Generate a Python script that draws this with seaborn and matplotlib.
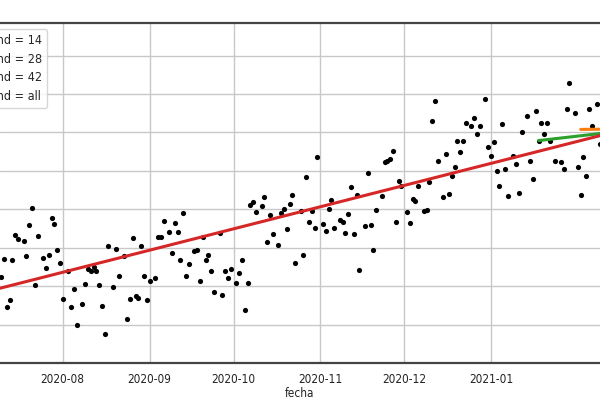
import pandas as pd
import numpy as np
import matplotlib
matplotlib.use("Agg")
import matplotlib.pyplot as plt
import matplotlib.dates as mdates
import seaborn as sns

# days since 2020-08-01 and daily values
dias = [-22, -21, -20, -19, -18, -17, -16, -14, -13, -12, -11, -10, -9, -7, -6, -5, -4, -3, -2, -1,
        0, 2, 3, 4, 5, 7, 8, 9, 10, 11, 12, 13, 14, 15, 16, 18, 19, 20, 22, 23,
        24, 25, 26, 27, 28, 29, 30, 31, 33, 34, 35, 36, 38, 39, 40, 41, 42, 43, 44, 45,
        47, 48, 49, 50, 51, 52, 53, 54, 56, 57, 58, 59, 60, 62, 63, 64, 65, 66, 67, 68,
        69, 71, 72, 73, 74, 75, 77, 78, 79, 80, 81, 82, 83, 85,
        86, 87, 88, 89, 90, 91, 93, 94, 95, 96, 97, 99, 100, 101, 102, 103, 104, 105, 106, 108,
        109, 110, 111, 112, 114, 115, 116, 117, 118, 119, 120, 121, 123, 124, 125, 126, 127, 129, 130, 131,
        132, 133, 134, 136, 137, 138, 139, 140, 141, 142, 143, 144, 146, 147, 148, 149, 151, 152, 153, 154,
        155, 156, 157, 158, 159, 161, 162, 163, 164, 166, 167, 168, 169, 170, 171, 172, 173, 174, 176, 178,
        179, 180, 181, 183, 184, 185, 186, 187, 188, 189, 191, 192]
valores = [2.23, 2.70, 1.45, 1.64, 2.68, 3.32, 3.22, 3.17, 2.78, 3.58, 4.03, 2.03, 3.30, 2.73, 2.47, 2.81, 3.77, 3.61, 2.94, 2.60,
           1.66, 2.39, 1.45, 1.92, 0.99, 1.53, 2.05, 2.44, 2.39, 2.49, 2.39, 2.03, 1.48, 0.75, 3.04, 1.97, 2.96, 2.26, 2.78, 1.14,
           1.66, 3.25, 1.74, 1.69, 3.04, 2.26, 1.64, 2.13, 2.21, 3.27, 3.27, 3.69, 3.40, 2.86, 3.64, 3.40, 2.68, 3.90, 2.26, 2.57,
           2.91, 2.94, 2.13, 3.27, 2.68, 2.81, 2.39, 1.84, 3.38, 1.77, 2.39, 2.21, 2.44, 2.08, 2.34, 2.68, 1.38, 2.08, 4.10, 4.18,
           3.92, 4.08, 4.31, 3.14, 3.84, 3.35, 3.06, 3.90, 4.00, 3.48, 4.13, 4.36, 2.60, 3.95,
           2.81, 4.83, 3.66, 3.95, 3.51, 5.35, 3.61, 3.43, 4.00, 4.23, 3.51, 3.71, 3.66, 3.38, 3.87, 4.57, 3.35, 4.36, 2.42, 3.56,
           4.94, 3.58, 2.94, 3.97, 4.34, 5.22, 5.27, 5.30, 5.53, 3.66, 4.75, 4.62, 3.92, 3.64, 4.26, 4.21, 4.60, 3.95, 3.97, 4.70,
           6.29, 6.83, 5.25, 4.31, 5.43, 4.39, 4.86, 5.09, 5.79, 5.48, 5.77, 6.26, 6.16, 6.39, 5.97, 6.18, 6.88, 5.61, 5.38, 5.74,
           5.01, 4.60, 6.23, 5.04, 4.34, 5.38, 5.19, 4.42, 6.00, 6.42, 5.25, 4.78, 6.55, 5.79, 6.26, 5.97, 6.26, 5.79, 5.27, 5.22,
           5.04, 6.62, 7.30, 6.52, 5.09, 4.36, 5.35, 4.86, 6.62, 6.16, 6.73, 5.71]

# linear trends: start/end day and value
trend_labels = ["trend = 14", "trend = 28", "trend = 42", "trend = all"]
trend_dias = [[199, 212], [185, 212], [170, 212], [-40, 212]]
trend_vals = [[6.20, 6.30], [6.08, 6.10], [5.79, 6.14], [1.62, 6.29]]
trend_colors = ["#1f77b4", "#ff7f0e", "#2ca02c", "#d62728"]

# month ticks shown on the x axis
meses = ["2020-08-01", "2020-09-01", "2020-10-01", "2020-11-01", "2020-12-01", "2021-01-01"]

base = pd.Timestamp("2020-08-01")
df = pd.DataFrame({"fecha": base + pd.to_timedelta(dias, unit="D"), "valor": valores})

sns.set_style("whitegrid")
plt.rcParams["font.family"] = ["DejaVu Sans"]
plt.rcParams["font.stretch"] = "condensed"

fig = plt.figure(figsize=(6, 4), dpi=100)
ax = fig.add_axes([0, 0.0925, 1, 0.85])

sns.scatterplot(data=df, x="fecha", y="valor", color="black", s=14, linewidth=0, ax=ax, zorder=3)

for lab, d, v, c in zip(trend_labels, trend_dias, trend_vals, trend_colors):
    tdf = pd.DataFrame({"fecha": base + pd.to_timedelta(d, unit="D"), "valor": v})
    sns.lineplot(data=tdf, x="fecha", y="valor", color=c, linewidth=2.2, label=lab, ax=ax, zorder=4)

ax.set_xlim(base - pd.Timedelta(days=22.4), base + pd.Timedelta(days=191.9))
ax.set_ylim(0, 8.85)
ax.set_yticks(range(1, 9))
ax.set_xticks(pd.to_datetime(meses))
ax.xaxis.set_major_formatter(mdates.DateFormatter("%Y-%m"))
ax.grid(True, color="#c8c8c8", linewidth=1.0)
ax.tick_params(axis="y", left=False, labelleft=False)
ax.tick_params(axis="x", length=0, pad=7, labelsize=8.5, labelcolor="#222222")
ax.set_xlabel("fecha", fontsize=8.5, color="#222222", labelpad=1)
ax.set_ylabel("")
for s in ["left", "right"]:
    ax.spines[s].set_visible(False)
for s in ["top", "bottom"]:
    ax.spines[s].set_color("#444444")
    ax.spines[s].set_linewidth(1.6)

ax.legend(loc="upper right", bbox_to_anchor=(47 / 600, 1 - 29 / 400), bbox_transform=fig.transFigure,
          borderaxespad=0, fontsize=9, frameon=True, framealpha=0.8, edgecolor="#cccccc", labelspacing=0.45)

fig.savefig("out.png", dpi=100)
